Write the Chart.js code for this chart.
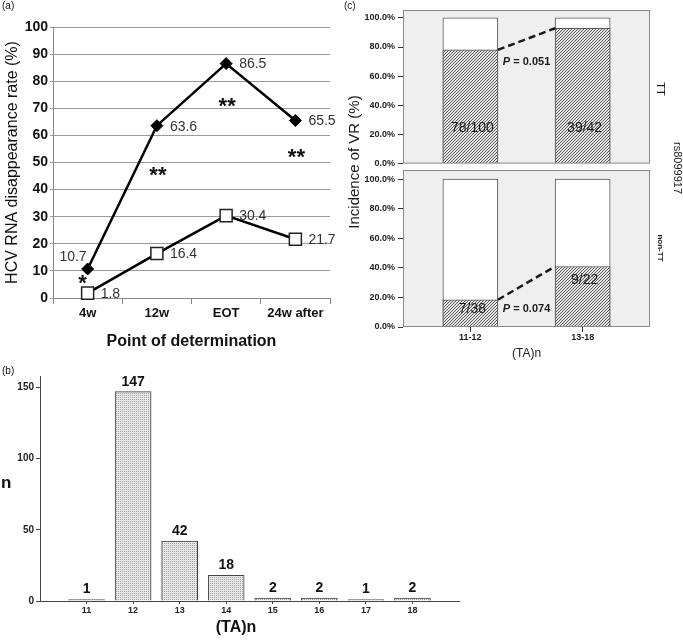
<!DOCTYPE html>
<html>
<head>
<meta charset="utf-8">
<script src="https://cdn.jsdelivr.net/npm/chart.js@4.4.0/dist/chart.umd.min.js"></script>
<style>
  html, body { margin: 0; padding: 0; background: #fff; }
  #wrap { position: relative; width: 683px; height: 640px; overflow: hidden; }
  canvas { position: absolute; }
</style>
</head>
<body>
<div id="wrap">
  <canvas id="chartA" width="340" height="352" style="left:0;top:0;width:340px;height:352px"></canvas>
  <canvas id="chartB" width="470" height="275" style="left:0;top:365px;width:470px;height:275px"></canvas>
  <canvas id="chartTT" width="343" height="172" style="left:340px;top:0;width:343px;height:172px"></canvas>
  <canvas id="chartNon" width="343" height="366" style="left:340px;top:0;width:343px;height:366px"></canvas>
</div>
<script>
// --- DATOS ---
// (a) tasa de desaparición del ARN del VHC
const timePoints = ['4w', '12w', 'EOT', '24w after'];
const rateVR = [10.7, 63.6, 86.5, 65.5];      // rombos negros
const rateNonVR = [1.8, 16.4, 30.4, 21.7];    // cuadrados blancos
const starText = ['*', '**', '**', '**'];
const starLevel = [7.4, 47.2, 72.7, 53.9];

// (b) distribución de repeticiones (TA)n
const taRepeats = [11, 12, 13, 14, 15, 16, 17, 18];
const taCounts = [1, 147, 42, 18, 2, 2, 1, 2];
const countTicks = [0, 50, 100, 150];

// (c) incidencia de VR según (TA)n y rs8099917
const groupLabels = ['11-12', '13-18'];
const fullBar = [100, 100];
const ttRate = [78.0, 92.9];
const ttCounts = ['78/100', '39/42'];
const nonTtRate = [18.4, 40.9];
const nonTtCounts = ['7/38', '9/22'];
const pValues = ['0.051', '0.074'];
const pctTicks = [0, 20, 40, 60, 80, 100];

const FONT = '"Liberation Sans", Arial, sans-serif';
Chart.defaults.font.family = FONT;
Chart.defaults.color = '#111';
Chart.defaults.animation = false;
Chart.defaults.plugins.legend.display = false;
Chart.defaults.plugins.tooltip.enabled = false;

// --- PATRONES DE RELLENO ---
function makePattern(canvasId, size, draw) {
  const tile = document.createElement('canvas');
  tile.width = size; tile.height = size;
  draw(tile.getContext('2d'), size);
  return document.getElementById(canvasId).getContext('2d').createPattern(tile, 'repeat');
}
function hatchDraw(x, s) {
  x.fillStyle = '#e8e8e8'; x.fillRect(0, 0, s, s);
  x.strokeStyle = '#555'; x.lineWidth = 1;
  x.beginPath();
  x.moveTo(0, s); x.lineTo(s, 0);
  x.moveTo(-1, 1); x.lineTo(1, -1);
  x.moveTo(s - 1, s + 1); x.lineTo(s + 1, s - 1);
  x.stroke();
}
function dotDraw(x, s) {
  x.fillStyle = '#e8e8e8'; x.fillRect(0, 0, s, s);
  x.fillStyle = '#a0a0a0'; x.fillRect(0, 0, 1, 1);
}

function txt(ctx, text, x, y, font, align, rot) {
  ctx.save();
  ctx.translate(x, y);
  if (rot) ctx.rotate(rot);
  ctx.font = font;
  ctx.textAlign = align || 'center';
  ctx.textBaseline = 'middle';
  ctx.fillText(text, 0, 0);
  ctx.restore();
}

/**
 * (a) GRÁFICO DE LÍNEAS
 */
const labelsA = {
  id: 'labelsA',
  afterDatasetsDraw(chart) {
    const ctx = chart.ctx;
    const y = chart.scales.y;
    ctx.save();
    ctx.fillStyle = '#333';
    chart.data.datasets.forEach((ds, di) => {
      chart.getDatasetMeta(di).data.forEach((pt, i) => {
        const v = ds.data[i].toFixed(1);
        if (di === 0 && i === 0) txt(ctx, v, pt.x - 1, pt.y - 12, '14px ' + FONT, 'right');
        else txt(ctx, v, pt.x + 13, pt.y + 1, '14px ' + FONT, 'left');
      });
    });
    ctx.fillStyle = '#111';
    chart.getDatasetMeta(0).data.forEach((pt, i) => {
      ctx.font = 'bold 22px ' + FONT;
      ctx.textAlign = 'center';
      ctx.textBaseline = 'alphabetic';
      ctx.fillText(starText[i], pt.x + (i === 0 ? -5 : 1), y.getPixelForValue(starLevel[i]) + 12);
    });
    txt(ctx, '(a)', 2, 6, '10px ' + FONT, 'left');
    ctx.restore();
  }
};

new Chart(document.getElementById('chartA'), {
  type: 'line',
  data: {
    labels: timePoints,
    datasets: [{
      data: rateVR,
      borderColor: '#000', borderWidth: 2.5,
      pointStyle: 'rectRot', pointRadius: 6,
      pointBackgroundColor: '#000', pointBorderColor: '#000', pointBorderWidth: 1,
      clip: false
    }, {
      data: rateNonVR,
      borderColor: '#000', borderWidth: 2.5,
      pointStyle: 'rect', pointRadius: 8.5,
      pointBackgroundColor: '#fff', pointBorderColor: '#222', pointBorderWidth: 1.5,
      clip: false
    }]
  },
  options: {
    responsive: false,
    layout: { padding: { top: 27, right: 10, left: 0, bottom: 0 } },
    scales: {
      x: {
        offset: true,
        grid: { offset: true, drawOnChartArea: false, tickLength: 6, color: '#888' },
        border: { color: '#888' },
        ticks: { font: { size: 13, weight: 'bold' }, padding: 2, color: '#111' },
        title: { display: true, text: 'Point of determination', font: { size: 16, weight: 'bold' }, padding: { top: 0, bottom: 1 }, color: '#111' },
        afterFit: s => { s.height = 54; }
      },
      y: {
        min: 0, max: 100,
        ticks: { stepSize: 10, font: { size: 14, weight: 'bold' }, padding: 2, color: '#111' },
        grid: { color: '#9a9a9a', tickLength: 3 },
        border: { color: '#888' },
        title: { display: true, text: 'HCV RNA disappearance rate (%)', font: { size: 16 }, padding: { top: 3, bottom: 0 }, color: '#111' },
        afterFit: s => { s.width = 53; }
      }
    }
  },
  plugins: [labelsA]
});

/**
 * (b) HISTOGRAMA (TA)n
 */
const labelsB = {
  id: 'labelsB',
  afterDatasetsDraw(chart) {
    const ctx = chart.ctx;
    ctx.save();
    ctx.fillStyle = '#111';
    chart.getDatasetMeta(0).data.forEach((bar, i) => {
      txt(ctx, String(taCounts[i]), bar.x, bar.y - 10, 'bold 14px ' + FONT);
    });
    txt(ctx, 'n', 1, 118, 'bold 17px ' + FONT, 'left');
    txt(ctx, '(TA)n', 236, 263, 'bold 16px ' + FONT);
    txt(ctx, '(b)', 2, 6, '10px ' + FONT, 'left');
    ctx.restore();
  }
};

new Chart(document.getElementById('chartB'), {
  type: 'bar',
  data: {
    datasets: [{
      data: taRepeats.map((r, i) => ({ x: r, y: taCounts[i] })),
      backgroundColor: makePattern('chartB', 2, dotDraw),
      borderColor: '#444', borderWidth: 1,
      barThickness: 36
    }]
  },
  options: {
    responsive: false,
    layout: { padding: { top: 11, right: 11, left: 0, bottom: 0 } },
    scales: {
      x: {
        type: 'linear', min: 10, max: 19, offset: false,
        afterBuildTicks: s => { s.ticks = taRepeats.map(v => ({ value: v })); },
        ticks: { font: { size: 9, weight: 'bold' }, padding: 1, color: '#222' },
        grid: { offset: false, drawOnChartArea: false, tickLength: 3, color: '#444' },
        border: { color: '#444' },
        afterFit: s => { s.height = 39; }
      },
      y: {
        min: 0, max: 158,
        afterBuildTicks: s => { s.ticks = countTicks.map(v => ({ value: v })); },
        ticks: { font: { size: 10, weight: 'bold' }, padding: 2, color: '#222' },
        grid: { drawOnChartArea: false, tickLength: 4, color: '#444' },
        border: { color: '#444' },
        afterFit: s => { s.width = 40; }
      }
    }
  },
  plugins: [labelsB]
});

/**
 * (c) BARRAS APILADAS POR GENOTIPO
 */
function panelPlugin(counts, countLevels, pText, pLevel, extra) {
  return {
    id: 'panelC',
    beforeDraw(chart) {
      const a = chart.chartArea, ctx = chart.ctx;
      ctx.save();
      ctx.fillStyle = '#efefef';
      ctx.fillRect(a.left, a.top, a.right - a.left, a.bottom - a.top);
      ctx.restore();
    },
    afterDatasetsDraw(chart) {
      const a = chart.chartArea, ctx = chart.ctx, y = chart.scales.y;
      const bars = chart.getDatasetMeta(1).data;
      ctx.save();
      ctx.strokeStyle = '#8a8a8a'; ctx.lineWidth = 1;
      ctx.strokeRect(a.left + 0.5, a.top + 0.5, a.right - a.left - 1, a.bottom - a.top - 1);
      // línea discontinua entre barras
      ctx.strokeStyle = '#1a1a1a'; ctx.lineWidth = 2.5; ctx.setLineDash([7, 4]);
      ctx.beginPath();
      ctx.moveTo(bars[0].x + bars[0].width / 2, bars[0].y);
      ctx.lineTo(bars[1].x - bars[1].width / 2, bars[1].y);
      ctx.stroke();
      ctx.setLineDash([]);
      ctx.fillStyle = '#1a1a1a';
      bars.forEach((b, i) => txt(ctx, counts[i], b.x + 2, y.getPixelForValue(countLevels[i]), '14px ' + FONT));
      // valor P
      const px = bars[0].x + bars[0].width / 2 + 5, py = y.getPixelForValue(pLevel);
      ctx.font = 'italic bold 11px ' + FONT;
      ctx.textAlign = 'left'; ctx.textBaseline = 'middle';
      ctx.fillText('P', px, py);
      const w = ctx.measureText('P').width;
      ctx.font = 'bold 11px ' + FONT;
      ctx.fillText(' = ' + pText, px + w, py);
      if (extra) extra(ctx, chart);
      ctx.restore();
    }
  };
}

function panelOptions(maxY, showX, padTop, padBottom) {
  return {
    responsive: false,
    layout: { padding: { top: padTop, right: 33, left: 0, bottom: padBottom } },
    scales: {
      x: {
        type: 'linear', min: 0.4, max: 2.6, display: showX, offset: false,
        afterBuildTicks: s => { s.ticks = groupLabels.map((_, i) => ({ value: i + 1 })); },
        ticks: { callback: v => groupLabels[v - 1], font: { size: 9, weight: 'bold' }, padding: 0, color: '#222' },
        grid: { offset: false, drawOnChartArea: false, tickLength: 5, color: '#333' },
        border: { display: false },
        title: { display: true, text: '(TA)n', font: { size: 12 }, padding: { top: 0, bottom: 5 }, color: '#222' },
        afterFit: s => { s.height = showX ? 39 : 0; }
      },
      y: {
        min: 0, max: maxY,
        afterBuildTicks: s => { s.ticks = pctTicks.map(v => ({ value: v })); },
        ticks: { callback: v => v.toFixed(1) + '%', font: { size: 9, weight: 'bold' }, padding: 3, color: '#222' },
        grid: { drawOnChartArea: false, tickLength: 5, color: '#333' },
        border: { display: false },
        afterFit: s => { s.width = 63; }
      }
    }
  };
}

function panelData(canvasId, rates) {
  return {
    datasets: [{
      data: fullBar.map((v, i) => ({ x: i + 1, y: v })),
      backgroundColor: '#fff', borderColor: '#555', borderWidth: 1,
      barThickness: 55, grouped: false, order: 2
    }, {
      data: rates.map((v, i) => ({ x: i + 1, y: v })),
      backgroundColor: makePattern(canvasId, 3, hatchDraw), borderColor: '#555', borderWidth: 1,
      barThickness: 55, grouped: false, order: 1
    }]
  };
}

new Chart(document.getElementById('chartTT'), {
  type: 'bar',
  data: panelData('chartTT', ttRate),
  options: panelOptions(105.4, false, 10, 6),
  plugins: [panelPlugin(ttCounts, [24, 24], pValues[0], 69.6, (ctx) => {
    txt(ctx, 'TT', 320, 89, '11px ' + FONT, 'center', Math.PI / 2);
    txt(ctx, '(c)', 4, 6, '10px ' + FONT, 'left');
  })]
});

new Chart(document.getElementById('chartNon'), {
  type: 'bar',
  data: panelData('chartNon', nonTtRate),
  options: panelOptions(106.1, true, 170, 0),
  plugins: [panelPlugin(nonTtCounts, [12.2, 31.8], pValues[1], 12.2, (ctx) => {
    txt(ctx, 'non-TT', 320, 248, 'bold 8px ' + FONT, 'center', Math.PI / 2);
    txt(ctx, 'rs8099917', 337, 168, '11px ' + FONT, 'center', Math.PI / 2);
    txt(ctx, 'Incidence of VR (%)', 15, 162, '15px ' + FONT, 'center', -Math.PI / 2);
  })]
});
</script>
</body>
</html>
